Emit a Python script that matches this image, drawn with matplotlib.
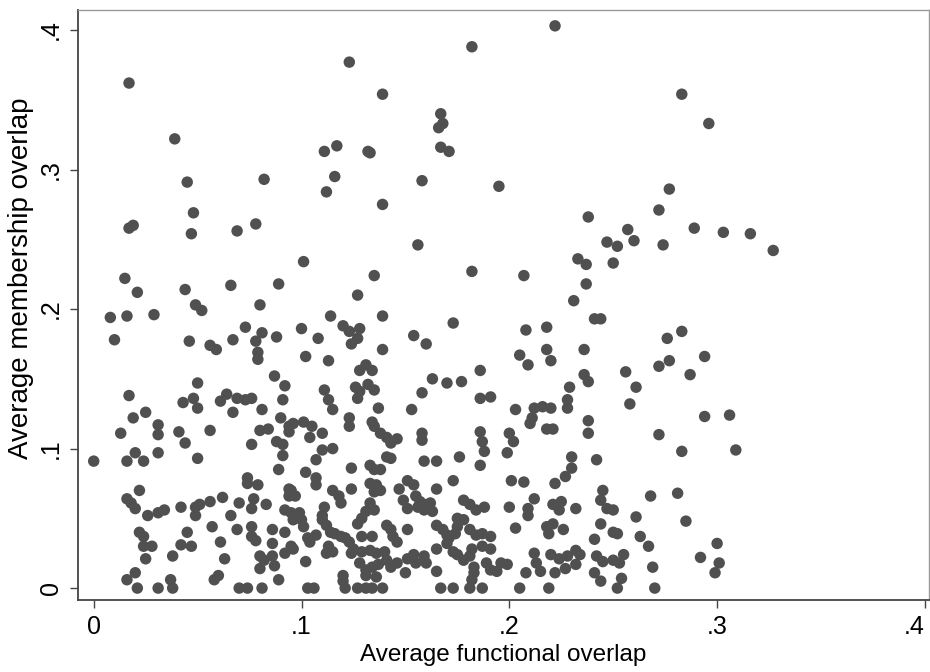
import matplotlib
matplotlib.use("Agg")
import matplotlib.pyplot as plt

plt.rcParams['font.family'] = ['Liberation Sans', 'DejaVu Sans']

# Points with membership overlap >= .14 (functional, membership)
upper_x = [0.017, 0.039, 0.045, 0.082, 0.123, 0.182, 0.139, 0.167, 0.168, 0.166,
           0.111, 0.117, 0.132, 0.133, 0.167, 0.171, 0.116, 0.112, 0.158, 0.195,
           0.139, 0.222, 0.283, 0.296, 0.277, 0.017, 0.019, 0.048, 0.047, 0.069,
           0.078, 0.015, 0.021, 0.044, 0.066, 0.089, 0.049, 0.052, 0.080, 0.008,
           0.016, 0.029, 0.010, 0.046, 0.056, 0.059, 0.067, 0.073, 0.078, 0.081,
           0.079, 0.079, 0.088, 0.087, 0.092, 0.050, 0.017, 0.101, 0.156, 0.182,
           0.135, 0.127, 0.114, 0.139, 0.173, 0.100, 0.108, 0.120, 0.123, 0.128,
           0.127, 0.124, 0.154, 0.160, 0.102, 0.113, 0.139, 0.128, 0.131, 0.134,
           0.163, 0.170, 0.177, 0.186, 0.111, 0.113, 0.126, 0.128, 0.127, 0.132,
           0.135, 0.158, 0.186, 0.191, 0.238, 0.289, 0.257, 0.260, 0.247, 0.252,
           0.274, 0.233, 0.237, 0.250, 0.207, 0.237, 0.231, 0.241, 0.244, 0.208,
           0.218, 0.283, 0.276, 0.205, 0.209, 0.218, 0.220, 0.236, 0.294, 0.272,
           0.277, 0.256, 0.287, 0.236, 0.238, 0.229, 0.261, 0.272, 0.303, 0.316,
           0.327]
upper_y = [0.362, 0.322, 0.291, 0.293, 0.377, 0.388, 0.354, 0.340, 0.333, 0.330,
           0.313, 0.317, 0.313, 0.312, 0.316, 0.313, 0.295, 0.284, 0.292, 0.288,
           0.275, 0.403, 0.354, 0.333, 0.286, 0.258, 0.260, 0.269, 0.254, 0.256,
           0.261, 0.222, 0.212, 0.214, 0.217, 0.218, 0.203, 0.199, 0.203, 0.194,
           0.195, 0.196, 0.178, 0.177, 0.174, 0.171, 0.178, 0.187, 0.177, 0.183,
           0.169, 0.164, 0.180, 0.152, 0.145, 0.147, 0.138, 0.234, 0.246, 0.227,
           0.224, 0.210, 0.195, 0.195, 0.190, 0.186, 0.179, 0.188, 0.184, 0.186,
           0.179, 0.175, 0.181, 0.175, 0.166, 0.163, 0.171, 0.156, 0.160, 0.156,
           0.150, 0.147, 0.148, 0.156, 0.142, 0.135, 0.144, 0.141, 0.136, 0.146,
           0.142, 0.140, 0.136, 0.137, 0.266, 0.258, 0.257, 0.249, 0.248, 0.245,
           0.246, 0.236, 0.232, 0.233, 0.224, 0.218, 0.206, 0.193, 0.193, 0.185,
           0.187, 0.184, 0.179, 0.167, 0.160, 0.171, 0.163, 0.171, 0.166, 0.159,
           0.163, 0.155, 0.153, 0.153, 0.148, 0.144, 0.144, 0.271, 0.255, 0.254,
           0.242]

# Points with membership overlap between .1 and .14
mid_x = [0.043, 0.048, 0.050, 0.061, 0.064, 0.069, 0.073, 0.076, 0.067, 0.081,
         0.091, 0.025, 0.019, 0.031, 0.031, 0.013, 0.041, 0.044, 0.056, 0.080,
         0.084, 0.090, 0.094, 0.094, 0.076, 0.088, 0.091, 0.137, 0.153, 0.115,
         0.123, 0.123, 0.134, 0.135, 0.096, 0.101, 0.105, 0.104, 0.110, 0.138,
         0.141, 0.146, 0.143, 0.158, 0.158, 0.186, 0.187, 0.115, 0.110, 0.203,
         0.212, 0.216, 0.220, 0.228, 0.228, 0.210, 0.211, 0.218, 0.221, 0.238,
         0.238, 0.200, 0.202, 0.258, 0.272, 0.294, 0.306]
mid_y = [0.133, 0.136, 0.129, 0.134, 0.139, 0.136, 0.135, 0.136, 0.126, 0.128,
         0.135, 0.126, 0.122, 0.117, 0.110, 0.111, 0.112, 0.104, 0.113, 0.113,
         0.114, 0.122, 0.116, 0.112, 0.103, 0.105, 0.103, 0.129, 0.128, 0.128,
         0.122, 0.116, 0.119, 0.116, 0.118, 0.119, 0.116, 0.108, 0.111, 0.111,
         0.108, 0.107, 0.104, 0.111, 0.106, 0.112, 0.105, 0.100, 0.099, 0.128,
         0.129, 0.130, 0.129, 0.129, 0.135, 0.118, 0.122, 0.114, 0.114, 0.120,
         0.111, 0.111, 0.105, 0.132, 0.110, 0.123, 0.124]

# Points with membership overlap below .1
low_x = [0.091, 0.020, 0.016, 0.024, 0.031, 0.050, 0.000, 0.089, 0.074, 0.074,
         0.079, 0.094, 0.094, 0.022, 0.016, 0.018, 0.020, 0.026, 0.031, 0.034,
         0.042, 0.049, 0.049, 0.051, 0.056, 0.062, 0.066, 0.070, 0.076, 0.077,
         0.083, 0.092, 0.095, 0.022, 0.024, 0.045, 0.057, 0.069, 0.076, 0.076,
         0.078, 0.086, 0.092, 0.096, 0.061, 0.024, 0.028, 0.025, 0.042, 0.047,
         0.038, 0.063, 0.086, 0.080, 0.082, 0.086, 0.087, 0.080, 0.092, 0.095,
         0.089, 0.020, 0.016, 0.021, 0.031, 0.037, 0.038, 0.058, 0.060, 0.070,
         0.074, 0.081,
         0.124, 0.102, 0.107, 0.107, 0.133, 0.135, 0.138, 0.141, 0.143, 0.159,
         0.165, 0.176, 0.186, 0.188, 0.173, 0.151, 0.154, 0.165, 0.133, 0.136,
         0.138, 0.135, 0.147, 0.124, 0.115, 0.118, 0.119, 0.095, 0.097, 0.111,
         0.110, 0.133, 0.135, 0.131, 0.129, 0.127, 0.149, 0.151, 0.155, 0.157,
         0.159, 0.156, 0.162, 0.163, 0.159, 0.178, 0.181, 0.184, 0.188, 0.099,
         0.100, 0.101, 0.110, 0.112, 0.114, 0.116, 0.119, 0.121, 0.123, 0.107,
         0.103, 0.104, 0.096, 0.102, 0.113, 0.115, 0.112, 0.125, 0.124, 0.129,
         0.134, 0.129, 0.133, 0.136, 0.140, 0.141, 0.143, 0.144, 0.146, 0.151,
         0.165, 0.168, 0.170, 0.171, 0.174, 0.175, 0.175, 0.178, 0.181, 0.184,
         0.187, 0.191, 0.165, 0.170, 0.173, 0.175, 0.178, 0.181, 0.182, 0.187,
         0.191, 0.183, 0.183, 0.182, 0.189, 0.191, 0.194, 0.196, 0.151, 0.154,
         0.155, 0.159, 0.160, 0.150, 0.165, 0.128, 0.131, 0.134, 0.137, 0.141,
         0.143, 0.146, 0.120, 0.120, 0.131, 0.136, 0.103, 0.106, 0.121, 0.127,
         0.131, 0.134, 0.139, 0.167, 0.173, 0.181, 0.187, 0.107,
         0.199, 0.242, 0.283, 0.230, 0.230, 0.227, 0.222, 0.201, 0.207, 0.268,
         0.281, 0.245, 0.244, 0.247, 0.250, 0.261, 0.285, 0.200, 0.212, 0.209,
         0.209, 0.221, 0.225, 0.224, 0.232, 0.203, 0.218, 0.221, 0.219, 0.226,
         0.244, 0.250, 0.252, 0.241, 0.263, 0.267, 0.212, 0.213, 0.220, 0.224,
         0.228, 0.232, 0.234, 0.232, 0.227, 0.222, 0.215, 0.199, 0.208, 0.242,
         0.245, 0.250, 0.255, 0.253, 0.241, 0.244, 0.254, 0.252, 0.269, 0.292,
         0.205, 0.219, 0.270, 0.300, 0.301, 0.299, 0.309]
low_y = [0.095, 0.097, 0.091, 0.091, 0.097, 0.093, 0.091, 0.085, 0.079, 0.075,
         0.074, 0.071, 0.066, 0.070, 0.064, 0.061, 0.057, 0.052, 0.054, 0.056,
         0.058, 0.058, 0.052, 0.060, 0.062, 0.065, 0.052, 0.061, 0.057, 0.064,
         0.060, 0.056, 0.054, 0.040, 0.037, 0.040, 0.044, 0.042, 0.044, 0.037,
         0.034, 0.042, 0.040, 0.049, 0.033, 0.030, 0.030, 0.021, 0.031, 0.030,
         0.023, 0.021, 0.032, 0.023, 0.020, 0.023, 0.016, 0.014, 0.025, 0.030,
         0.006, 0.011, 0.006, 0.000, 0.000, 0.006, 0.000, 0.006, 0.009, 0.000,
         0.000, 0.000,
         0.086, 0.083, 0.079, 0.074, 0.088, 0.085, 0.085, 0.094, 0.093, 0.091,
         0.091, 0.094, 0.088, 0.098, 0.077, 0.077, 0.074, 0.071, 0.075, 0.074,
         0.070, 0.069, 0.071, 0.071, 0.070, 0.066, 0.061, 0.070, 0.066, 0.058,
         0.052, 0.061, 0.056, 0.055, 0.050, 0.046, 0.063, 0.057, 0.066, 0.062,
         0.060, 0.058, 0.061, 0.055, 0.056, 0.063, 0.060, 0.056, 0.058, 0.054,
         0.049, 0.044, 0.049, 0.045, 0.040, 0.039, 0.037, 0.036, 0.033, 0.038,
         0.036, 0.033, 0.028, 0.019, 0.030, 0.026, 0.025, 0.028, 0.025, 0.037,
         0.037, 0.026, 0.027, 0.025, 0.026, 0.045, 0.042, 0.037, 0.033, 0.042,
         0.045, 0.042, 0.038, 0.036, 0.039, 0.044, 0.050, 0.049, 0.042, 0.038,
         0.039, 0.037, 0.028, 0.032, 0.026, 0.024, 0.020, 0.023, 0.028, 0.030,
         0.028, 0.015, 0.011, 0.006, 0.018, 0.013, 0.012, 0.018, 0.021, 0.024,
         0.018, 0.023, 0.018, 0.011, 0.012, 0.018, 0.013, 0.015, 0.017, 0.020,
         0.015, 0.018, 0.009, 0.005, 0.009, 0.008, 0.000, 0.000, 0.000, 0.000,
         0.000, 0.000, 0.000, 0.000, 0.000, 0.000, 0.000, 0.092,
         0.097, 0.092, 0.098, 0.094, 0.086, 0.080, 0.075, 0.077, 0.076, 0.066,
         0.068, 0.070, 0.063, 0.057, 0.056, 0.051, 0.048, 0.058, 0.064, 0.057,
         0.052, 0.060, 0.062, 0.056, 0.057, 0.043, 0.044, 0.046, 0.039, 0.042,
         0.046, 0.040, 0.039, 0.035, 0.037, 0.030, 0.025, 0.018, 0.024, 0.021,
         0.023, 0.027, 0.024, 0.017, 0.014, 0.011, 0.012, 0.017, 0.011, 0.023,
         0.019, 0.020, 0.024, 0.018, 0.011, 0.005, 0.007, 0.000, 0.015, 0.022,
         0.000, 0.000, 0.000, 0.032, 0.018, 0.011, 0.099]

func_overlap = upper_x + mid_x + low_x
memb_overlap = upper_y + mid_y + low_y

x_ticks = [0, 0.1, 0.2, 0.3, 0.4]
y_ticks = [0, 0.1, 0.2, 0.3, 0.4]
tick_labels = ["0", ".1", ".2", ".3", ".4"]

fig = plt.figure(figsize=(9.3, 6.72), dpi=100)
ax = fig.add_axes([0.084, 0.107, 0.915, 0.878])

ax.scatter(func_overlap, memb_overlap, s=68, color="#505050", edgecolors="none", zorder=3)

ax.set_xlim(-0.0075, 0.402)
ax.set_ylim(-0.0086, 0.4143)

ax.set_xticks(x_ticks)
ax.set_xticklabels(tick_labels, fontsize=18)
# keep the last x label inside the figure
ax.get_xticklabels()[-1].set_horizontalalignment("right")
ax.set_yticks(y_ticks)
ax.set_yticklabels(tick_labels, fontsize=18, rotation=90, va="center")
ax.tick_params(direction="out", length=6, width=1, color="#444444", pad=5)

ax.set_xlabel("Average functional overlap", fontsize=17.5, labelpad=3)
ax.set_ylabel("Average membership overlap", fontsize=20)
ax.yaxis.set_label_coords(-0.052, 0.545)

for side in ["left", "bottom"]:
    ax.spines[side].set_color("#444444")
    ax.spines[side].set_linewidth(1.3)
for side in ["top", "right"]:
    ax.spines[side].set_color("#999999")
    ax.spines[side].set_linewidth(1.0)

fig.savefig("out.png", dpi=100)
